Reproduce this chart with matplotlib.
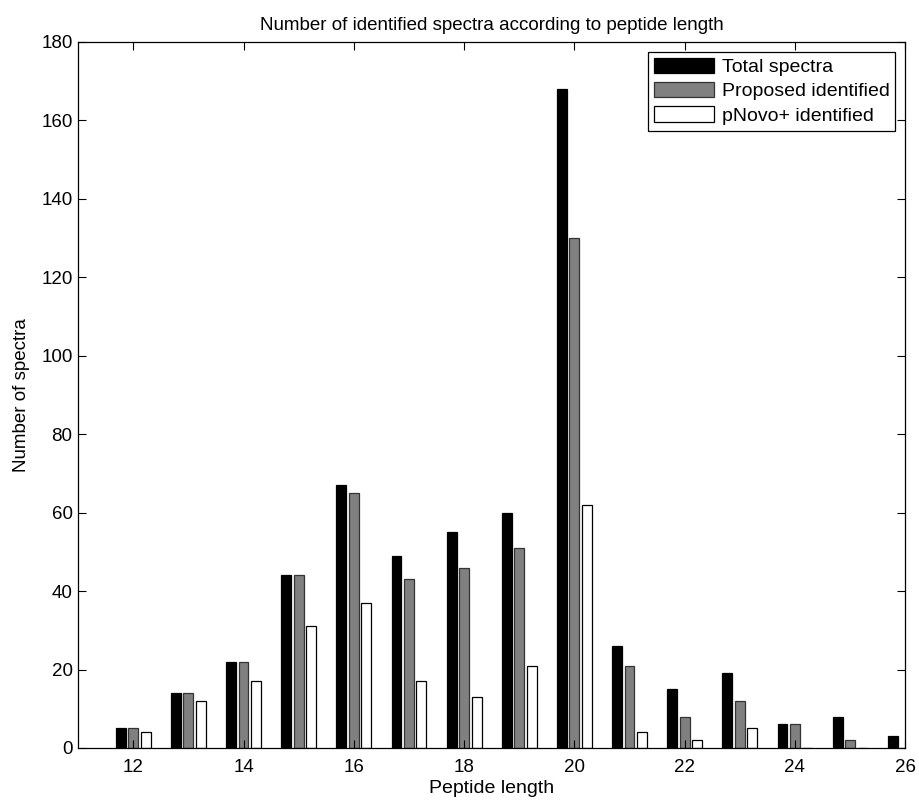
import matplotlib
matplotlib.use("Agg")
import matplotlib.pyplot as plt
import numpy as np

plt.rcParams["font.family"] = ["Liberation Sans", "DejaVu Sans"]

lengths = [12, 13, 14, 15, 16, 17, 18, 19, 20, 21, 22, 23, 24, 25, 26]
total = [5, 14, 22, 44, 67, 49, 55, 60, 168, 26, 15, 19, 6, 8, 3]
proposed = [5, 14, 22, 44, 65, 43, 46, 51, 130, 21, 8, 12, 6, 2, 0]
pnovo = [4, 12, 17, 31, 37, 17, 13, 21, 62, 4, 2, 5, 0, 0, 0]

series = [
    ("Total spectra", total, "black", "black"),
    ("Proposed identified", proposed, "#808080", "#333333"),
    ("pNovo+ identified", pnovo, "white", "black"),
]

fs = 13.5

fig = plt.figure(figsize=(9.19, 8.0), dpi=100)
ax = fig.add_axes([0.085, 0.065, 0.9, 0.8825])

x = np.array(lengths, dtype=float)
step = 0.226
width = 0.18
for i, (label, vals, fc, ec) in enumerate(series):
    ax.bar(x + (i - 1) * step, vals, width=width, color=fc, edgecolor=ec,
           linewidth=0.9, label=label)

ax.set_xlim(11, 26)
ax.set_ylim(0, 180)
ax.set_xticks(range(12, 27, 2))
ax.set_yticks(range(0, 181, 20))
ax.tick_params(direction="in", top=True, right=True, labelsize=fs, length=6)
ax.tick_params(axis="x", pad=8)
ax.tick_params(axis="y", pad=4)
for s in ax.spines.values():
    s.set_linewidth(0.9)

ax.set_xlabel("Peptide length", fontsize=fs + 0.5, labelpad=3)
ax.set_ylabel("Number of spectra", fontsize=fs, labelpad=8)
ax.set_title("Number of identified spectra according to peptide length",
             fontsize=fs, pad=9)

leg = ax.legend(loc="upper right", fontsize=14, fancybox=False, framealpha=1,
                edgecolor="black", handlelength=3.1, handleheight=0.85,
                borderaxespad=0.5, labelspacing=0.3, handletextpad=0.4,
                borderpad=0.3)
leg.get_frame().set_linewidth(0.9)

fig.savefig("out.png", dpi=100)
